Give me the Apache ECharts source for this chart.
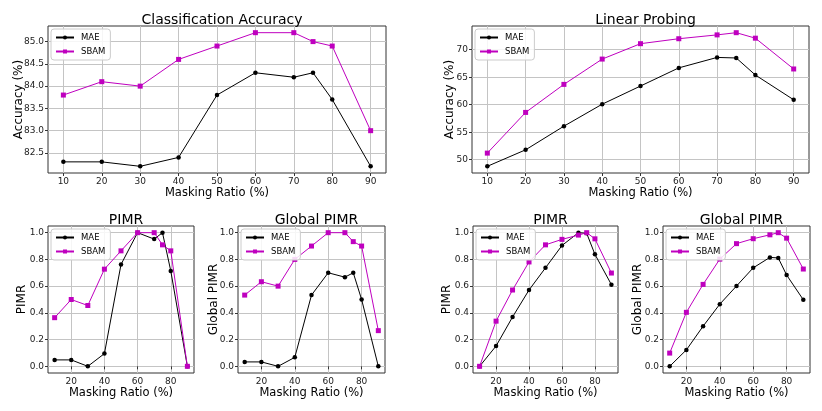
<!DOCTYPE html>
<html>
<head>
<meta charset="utf-8">
<script src="https://cdn.jsdelivr.net/npm/echarts@6/dist/echarts.min.js"></script>
<style>html,body{margin:0;padding:0;background:#fff}#c{width:822px;height:411px}</style>
</head>
<body>
<div id="c"></div>
<script>
// ---- data ----
const maskingRatio = [10, 20, 30, 40, 50, 60, 70, 75, 80, 90];

const clsMAE  = [82.3, 82.3, 82.2, 82.4, 83.8, 84.3, 84.2, 84.3, 83.7, 82.2];
const clsSBAM = [83.8, 84.1, 84.0, 84.6, 84.9, 85.2, 85.2, 85.0, 84.9, 83.0];

const linMAE  = [48.8, 51.8, 56.1, 60.1, 63.4, 66.7, 68.6, 68.5, 65.4, 60.9];
const linSBAM = [51.2, 58.6, 63.7, 68.3, 71.1, 72.0, 72.7, 73.1, 72.1, 66.5];

const clsPimrMAE  = [0.048, 0.048, 0.0, 0.095, 0.762, 1.0, 0.952, 1.0, 0.714, 0.0];
const clsPimrSBAM = [0.364, 0.50, 0.455, 0.727, 0.864, 1.0, 1.0, 0.909, 0.864, 0.0];

const clsGPimrMAE  = [0.033, 0.033, 0.0, 0.067, 0.533, 0.70, 0.667, 0.70, 0.50, 0.0];
const clsGPimrSBAM = [0.533, 0.633, 0.60, 0.80, 0.90, 1.0, 1.0, 0.933, 0.90, 0.267];

const linPimrMAE  = [0.0, 0.152, 0.369, 0.571, 0.737, 0.904, 1.0, 0.995, 0.838, 0.611];
const linPimrSBAM = [0.0, 0.338, 0.571, 0.781, 0.909, 0.95, 0.982, 1.0, 0.954, 0.698];

const linGPimrMAE  = [0.0, 0.123, 0.300, 0.465, 0.601, 0.737, 0.815, 0.811, 0.683, 0.498];
const linGPimrSBAM = [0.099, 0.404, 0.613, 0.802, 0.918, 0.955, 0.984, 1.0, 0.959, 0.728];

const xTicksTop = [10, 20, 30, 40, 50, 60, 70, 80, 90];
const xTicksBottom = [20, 40, 60, 80];
const yTicksCls = [82.5, 83.0, 83.5, 84.0, 84.5, 85.0];
const yTicksLin = [50, 55, 60, 65, 70];
const yTicksPimr = [0.0, 0.2, 0.4, 0.6, 0.8, 1.0];

const titles = ['Classification Accuracy', 'Linear Probing', 'PIMR', 'Global PIMR', 'PIMR', 'Global PIMR'];
const yNames = ['Accuracy (%)', 'Accuracy (%)', 'PIMR', 'Global PIMR', 'PIMR', 'Global PIMR'];
const xName = 'Masking Ratio (%)';

// ---- layout ----
const FONT = 'DejaVu Sans';
const grids = [
  {left: 48, top: 26, width: 338, height: 147},
  {left: 472, top: 26, width: 337, height: 147},
  {left: 48, top: 226, width: 146, height: 147},
  {left: 238, top: 226, width: 147, height: 147},
  {left: 473, top: 226, width: 145, height: 147},
  {left: 663, top: 226, width: 147, height: 147}
];
const yRanges = [[82.05, 85.35], [47.585, 74.315], [-0.05, 1.05], [-0.05, 1.05], [-0.05, 1.05], [-0.05, 1.05]];
const yTicks = [yTicksCls, yTicksLin, yTicksPimr, yTicksPimr, yTicksPimr, yTicksPimr];
const yFmt = [v => v.toFixed(1), v => String(Math.round(v)), v => v.toFixed(1), v => v.toFixed(1), v => v.toFixed(1), v => v.toFixed(1)];
const yNameGap = [23, 16, 20, 18, 20, 19];
const seriesPairs = [
  [clsMAE, clsSBAM], [linMAE, linSBAM],
  [clsPimrMAE, clsPimrSBAM], [clsGPimrMAE, clsGPimrSBAM],
  [linPimrMAE, linPimrSBAM], [linGPimrMAE, linGPimrSBAM]
];

const MAGENTA = '#bf00bf';
const GRIDC = '#c4c4c4';

const option = {
  animation: false,
  backgroundColor: '#fff',
  textStyle: {fontFamily: FONT},
  title: [], grid: [], xAxis: [], yAxis: [], series: [], legend: []
};

grids.forEach((g, i) => {
  option.grid.push({left: g.left, top: g.top, width: g.width, height: g.height,
    show: true, borderColor: '#333', borderWidth: 1, backgroundColor: 'transparent'});
  option.title.push({text: titles[i], left: g.left + g.width / 2, top: i < 2 ? 8 : 208,
    textAlign: 'center',
    textStyle: {fontFamily: FONT, fontSize: 14, fontWeight: 'normal', color: '#000'}});
  const xt = i < 2 ? xTicksTop : xTicksBottom;
  option.xAxis.push({type: 'value', gridIndex: i, min: 6, max: 94,
    name: xName, nameLocation: 'middle', nameGap: 14, nameMoveOverlap: false,
    nameTextStyle: {fontFamily: FONT, fontSize: 11.5, color: '#000', verticalAlign: 'top'},
    axisLine: {show: false},
    axisTick: {show: true, length: 3, inside: false, lineStyle: {color: '#333'}, customValues: xt},
    axisLabel: {fontFamily: FONT, fontSize: 9, color: '#222', margin: 4, customValues: xt,
      formatter: v => String(v)},
    splitLine: {show: true, lineStyle: {color: GRIDC, width: 1}}
  });
  option.yAxis.push({type: 'value', gridIndex: i, min: yRanges[i][0], max: yRanges[i][1],
    name: yNames[i], nameLocation: 'middle', nameGap: yNameGap[i], nameMoveOverlap: false,
    nameTextStyle: {fontFamily: FONT, fontSize: 12, color: '#000'},
    axisLine: {show: false},
    axisTick: {show: true, length: 3, lineStyle: {color: '#333'}, customValues: yTicks[i]},
    axisLabel: {fontFamily: FONT, fontSize: 9, color: '#222', margin: 4, customValues: yTicks[i],
      formatter: yFmt[i]},
    splitLine: {show: true, lineStyle: {color: GRIDC, width: 1}}
  });
  const [mae, sbam] = seriesPairs[i];
  option.series.push({name: 'MAE', type: 'line', xAxisIndex: i, yAxisIndex: i,
    data: maskingRatio.map((x, k) => [x, mae[k]]),
    symbol: 'circle', symbolSize: 4.5, showAllSymbol: true,
    lineStyle: {color: '#000', width: 1}, itemStyle: {color: '#000'}, z: 3});
  option.series.push({name: 'SBAM', type: 'line', xAxisIndex: i, yAxisIndex: i,
    data: maskingRatio.map((x, k) => [x, sbam[k]]),
    symbol: 'rect', symbolSize: 5, showAllSymbol: true,
    lineStyle: {color: MAGENTA, width: 1}, itemStyle: {color: MAGENTA}, z: 3});
  option.legend.push({orient: 'vertical', left: g.left + 3, top: g.top + 3,
    data: ['MAE', 'SBAM'], itemWidth: 18, itemHeight: 5, itemGap: 5,
    padding: [4, 5, 4, 4], backgroundColor: 'rgba(255,255,255,0.85)',
    borderColor: '#ccc', borderWidth: 1, borderRadius: 3,
    selectedMode: false,
    textStyle: {fontFamily: FONT, fontSize: 8.5, color: '#000', padding: [0, 0, 0, 2]}});
});

const chart = echarts.init(document.getElementById('c'), null, {renderer: 'canvas'});
chart.setOption(option);
</script>
</body>
</html>
